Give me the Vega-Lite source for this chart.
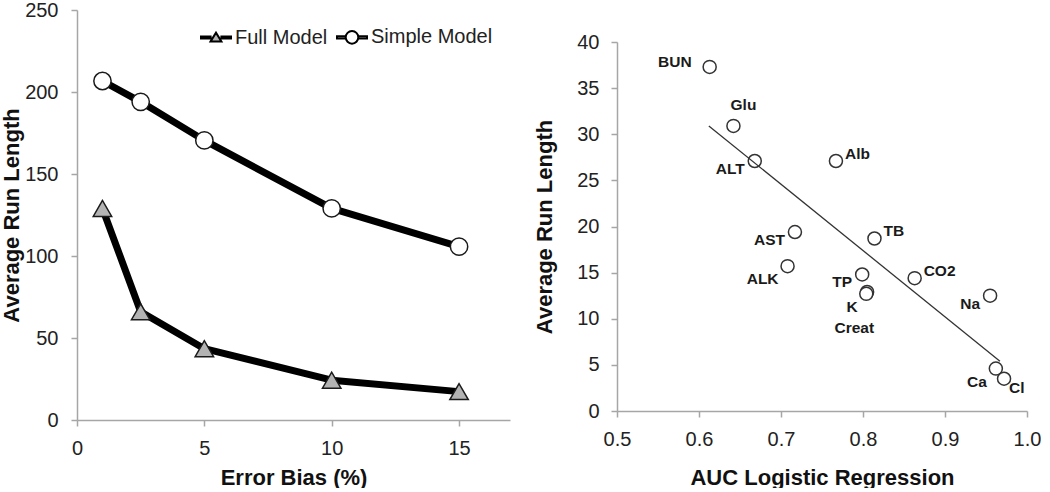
{
  "$schema": "https://vega.github.io/schema/vega-lite/v6.json",
  "padding": {"left": 0, "top": 0, "right": 0, "bottom": 0},
  "background": "white",
  "config": {
    "font": "Liberation Sans",
    "view": {"stroke": null},
    "axis": {
      "domainColor": "#a6a6a6", "domainWidth": 1.5, "tickColor": "#a6a6a6", "tickWidth": 1.5, "tickSize": 6,
      "grid": false, "labelFont": "Liberation Sans", "labelFontSize": 20, "labelColor": "#222222", "labelPadding": 12, "labelFlush": false,
      "titleFont": "Liberation Sans", "titleFontSize": 22, "titleFontWeight": "bold", "titleColor": "#111111"
    },
    "concat": {"spacing": 23}
  },
  "datasets": {
    "bias": [
      {"model": "Full Model", "bias": 1, "arl": 129},
      {"model": "Full Model", "bias": 2.5, "arl": 66},
      {"model": "Full Model", "bias": 5, "arl": 43.5},
      {"model": "Full Model", "bias": 10, "arl": 24.3},
      {"model": "Full Model", "bias": 15, "arl": 17.3},
      {"model": "Simple Model", "bias": 1, "arl": 206.7},
      {"model": "Simple Model", "bias": 2.5, "arl": 194},
      {"model": "Simple Model", "bias": 5, "arl": 170.5},
      {"model": "Simple Model", "bias": 10, "arl": 129},
      {"model": "Simple Model", "bias": 15, "arl": 105.7}
    ],
    "auc": [
      {"label": "BUN", "auc": 0.613, "arl": 37.3},
      {"label": "Glu", "auc": 0.642, "arl": 30.9},
      {"label": "ALT", "auc": 0.668, "arl": 27.1},
      {"label": "Alb", "auc": 0.767, "arl": 27.1},
      {"label": "AST", "auc": 0.717, "arl": 19.4},
      {"label": "TB", "auc": 0.814, "arl": 18.7},
      {"label": "ALK", "auc": 0.708, "arl": 15.7},
      {"label": "TP", "auc": 0.799, "arl": 14.8},
      {"label": "CO2", "auc": 0.863, "arl": 14.4},
      {"label": "K", "auc": 0.805, "arl": 12.9},
      {"label": "Creat", "auc": 0.804, "arl": 12.7},
      {"label": "Na", "auc": 0.955, "arl": 12.5},
      {"label": "Ca", "auc": 0.962, "arl": 4.6},
      {"label": "Cl", "auc": 0.972, "arl": 3.5}
    ],
    "trend": [
      {"auc": 0.612, "arl": 30.9},
      {"auc": 0.967, "arl": 5.4}
    ]
  },
  "hconcat": [
    {
      "width": 433, "height": 410,
      "data": {"name": "bias"},
      "encoding": {
        "x": {"field": "bias", "type": "quantitative", "scale": {"domain": [0, 17], "nice": false},
              "axis": {"values": [0, 5, 10, 15], "title": "Error Bias (%)", "titlePadding": 9}},
        "y": {"field": "arl", "type": "quantitative", "scale": {"domain": [0, 250], "nice": false},
              "axis": {"values": [0, 50, 100, 150, 200, 250], "title": "Average Run Length", "titlePadding": 1, "labelPadding": 13}}
      },
      "layer": [
        {"mark": {"type": "line", "stroke": "black", "strokeWidth": 7, "strokeJoin": "round"},
         "encoding": {"detail": {"field": "model"}}},
        {"transform": [{"filter": "datum.model === 'Full Model'"}],
         "mark": {"type": "point", "shape": "triangle-up", "filled": true, "fill": "#b3b3b3", "stroke": "#1a1a1a", "strokeWidth": 1.5, "size": 340, "opacity": 1}},
        {"transform": [{"filter": "datum.model === 'Simple Model'"}],
         "mark": {"type": "point", "shape": "circle", "filled": true, "fill": "white", "stroke": "#1a1a1a", "strokeWidth": 1.5, "size": 300, "opacity": 1}},
        {"transform": [{"filter": "false"}],
         "mark": {"type": "point", "filled": true, "strokeWidth": 2, "opacity": 1},
         "encoding": {
           "shape": {"field": "model", "type": "nominal",
             "scale": {"domain": ["Full Model", "Simple Model"],
                       "range": ["M-1,-0.07H-0.36V0.07H-1Z M0.36,-0.07H1V0.07H0.36Z M-0.36,0.26L0,-0.32L0.36,0.26Z",
                                 "M-1,-0.07H-0.42V0.07H-1Z M0.42,-0.07H1V0.07H0.42Z M-0.42,0A0.42,0.42 0 1,1 0.42,0A0.42,0.42 0 1,1 -0.42,0Z"]},
             "legend": {"title": null, "orient": "none", "legendX": 123, "legendY": 11, "direction": "horizontal",
                        "symbolSize": 900, "symbolStrokeWidth": 2, "symbolOpacity": 1,
                        "labelFontSize": 20, "labelFont": "Liberation Sans", "labelColor": "#222222", "labelOffset": 3, "columnPadding": 5}},
           "fill": {"field": "model", "type": "nominal",
             "scale": {"domain": ["Full Model", "Simple Model"], "range": ["#b3b3b3", "white"]},
             "legend": {"title": null, "orient": "none", "legendX": 123, "legendY": 11, "direction": "horizontal",
                        "symbolSize": 900, "symbolStrokeWidth": 2, "symbolOpacity": 1,
                        "labelFontSize": 20, "labelFont": "Liberation Sans", "labelColor": "#222222", "labelOffset": 3, "columnPadding": 5}},
           "stroke": {"field": "model", "type": "nominal",
             "scale": {"domain": ["Full Model", "Simple Model"], "range": ["black", "black"]},
             "legend": {"title": null, "orient": "none", "legendX": 123, "legendY": 11, "direction": "horizontal",
                        "symbolSize": 900, "symbolStrokeWidth": 2, "symbolOpacity": 1,
                        "labelFontSize": 20, "labelFont": "Liberation Sans", "labelColor": "#222222", "labelOffset": 3, "columnPadding": 5}}
         }}
      ]
    },
    {
      "spacing": 0,
      "vconcat": [
        {"width": 410, "height": 22, "data": {"values": []}, "mark": "point", "encoding": {}},
        {
          "width": 410, "height": 369,
          "encoding": {
            "x": {"field": "auc", "type": "quantitative", "scale": {"domain": [0.5, 1.0], "nice": false},
                  "axis": {"values": [0.5, 0.6, 0.7, 0.8, 0.9, 1.0], "format": ".1f", "title": "AUC Logistic Regression", "titlePadding": 18}},
            "y": {"field": "arl", "type": "quantitative", "scale": {"domain": [0, 40], "nice": false},
                  "axis": {"values": [0, 5, 10, 15, 20, 25, 30, 35, 40], "title": "Average Run Length", "titlePadding": 20}}
          },
          "layer": [
            {"data": {"name": "auc"},
             "mark": {"type": "point", "filled": true, "fill": "white", "stroke": "#333333", "strokeWidth": 1.5, "size": 170, "opacity": 1}},
            {"data": {"name": "trend"},
             "mark": {"type": "line", "stroke": "#333333", "strokeWidth": 1.3}},
            {"data": {"name": "auc"}, "transform": [{"filter": {"field": "label", "oneOf": ["ALT", "AST", "TP", "Na"]}}],
             "mark": {"type": "text", "align": "right", "baseline": "middle", "dx": -10, "dy": 8, "fontWeight": "bold", "fontSize": 15.5, "color": "#1a1a1a"},
             "encoding": {"text": {"field": "label"}}},
            {"data": {"name": "auc"}, "transform": [{"filter": {"field": "label", "oneOf": ["ALK", "Ca"]}}],
             "mark": {"type": "text", "align": "right", "baseline": "middle", "dx": -9, "dy": 13, "fontWeight": "bold", "fontSize": 15.5, "color": "#1a1a1a"},
             "encoding": {"text": {"field": "label"}}},
            {"data": {"name": "auc"}, "transform": [{"filter": {"field": "label", "oneOf": ["Alb", "TB", "CO2"]}}],
             "mark": {"type": "text", "align": "left", "baseline": "middle", "dx": 9, "dy": -7, "fontWeight": "bold", "fontSize": 15.5, "color": "#1a1a1a"},
             "encoding": {"text": {"field": "label"}}},
            {"data": {"name": "auc"}, "transform": [{"filter": {"field": "label", "equal": "BUN"}}],
             "mark": {"type": "text", "align": "right", "baseline": "middle", "dx": -18, "dy": -5, "fontWeight": "bold", "fontSize": 15.5, "color": "#1a1a1a"},
             "encoding": {"text": {"field": "label"}}},
            {"data": {"name": "auc"}, "transform": [{"filter": {"field": "label", "equal": "Glu"}}],
             "mark": {"type": "text", "align": "center", "baseline": "middle", "dx": 10, "dy": -21, "fontWeight": "bold", "fontSize": 15.5, "color": "#1a1a1a"},
             "encoding": {"text": {"field": "label"}}},
            {"data": {"name": "auc"}, "transform": [{"filter": {"field": "label", "equal": "K"}}],
             "mark": {"type": "text", "align": "center", "baseline": "middle", "dx": -15, "dy": 15, "fontWeight": "bold", "fontSize": 15.5, "color": "#1a1a1a"},
             "encoding": {"text": {"field": "label"}}},
            {"data": {"name": "auc"}, "transform": [{"filter": {"field": "label", "equal": "Creat"}}],
             "mark": {"type": "text", "align": "center", "baseline": "middle", "dx": -12, "dy": 34, "fontWeight": "bold", "fontSize": 15.5, "color": "#1a1a1a"},
             "encoding": {"text": {"field": "label"}}},
            {"data": {"name": "auc"}, "transform": [{"filter": {"field": "label", "equal": "Cl"}}],
             "mark": {"type": "text", "align": "left", "baseline": "middle", "dx": 5, "dy": 9, "fontWeight": "bold", "fontSize": 15.5, "color": "#1a1a1a"},
             "encoding": {"text": {"field": "label"}}}
          ]
        }
      ]
    }
  ]
}
